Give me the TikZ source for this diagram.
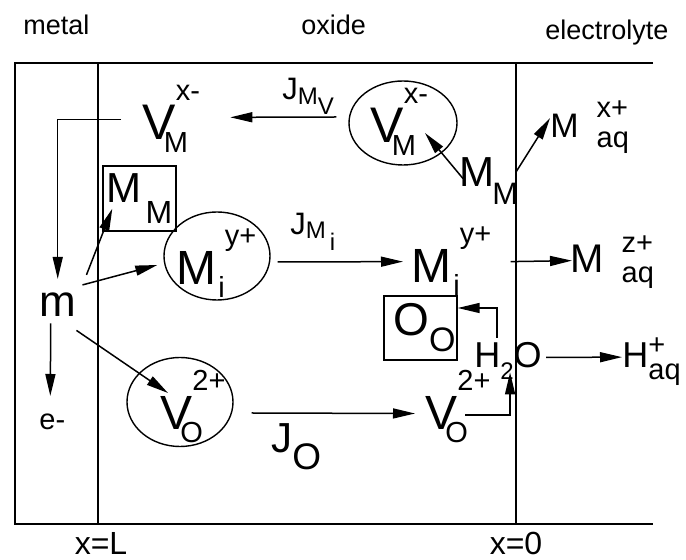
\documentclass[tikz,border=0pt]{standalone}
\usepackage{fontspec}
\setmainfont{Liberation Sans}
\usetikzlibrary{arrows.meta,shapes.geometric}

\newcommand\fs[1]{\fontsize{#1}{#1}\selectfont}
\newcommand\scr{\fs{14.5}}
% species: base, sub below, sup above
\newcommand\spc[3]{#1\rlap{\kern-6pt\raisebox{-6.5pt}{\scr #2}}\raisebox{19.5pt}{\scr #3}}
% species: sub, then sup
\newcommand\spi[3]{#1\kern1pt\raisebox{-6.5pt}{\scr #2}\raisebox{19.5pt}{\scr #3}}
% aqueous ion
\newcommand\aqs[2]{#1\hspace{9pt}\rlap{\raisebox{-5pt}{\scr aq}}\raisebox{10pt}{\scr #2}}

\begin{document}
\begin{tikzpicture}[x=0.5pt,y=-0.5pt,
    every node/.style={inner sep=0pt},
    txt/.style={anchor=base west,font=\fs{13.5}},
    ion/.style={anchor=base west,font=\fs{#1}},
    ion/.default=25,
    arr/.style={-{Triangle[length=11pt,width=5pt]},line width=0.75pt},
    wall/.style={line width=1pt},
    oval/.style={draw,ellipse,line width=0.7pt},
    site/.style={draw,rectangle,line width=0.7pt}]
  \useasboundingbox (0,0) rectangle (686,560);

  % layers
  \coordinate (tl) at (15,63); \coordinate (tr) at (653,63);
  \coordinate (bl) at (15,524); \coordinate (br) at (653,524);
  \coordinate (Lt) at (98,63); \coordinate (Lb) at (98,524);
  \coordinate (Zt) at (516,63); \coordinate (Zb) at (516,524);
  \draw[wall] (tr) -- (tl) -- (bl) -- (br);
  \draw[wall] (Lt) -- (Lb);
  \draw[wall] (Zt) -- (Zb);

  \node[txt] (metal) at (23,35) {metal};
  \node[txt] (oxide) at (301,35) {oxide};
  \node[txt] (elec) at (545,40) {electrolyte};
  \node[ion=16,anchor=base] (xL) at (101,555) {x=L};
  \node[ion=16,anchor=base] (x0) at (516,555) {x=0};

  % species
  \node[ion] (VMl) at (142,140) {\spc{V}{M}{x-}};
  \node[oval,minimum width=54pt,minimum height=42pt] (VMe) at (403,123) {};
  \node[ion] (VMc) at (370,143) {\spc{V}{M}{x-}};
  \node[ion=21] (MMr) at (459,187) {M\kern-1pt\raisebox{-9pt}{\fs{15.5}M}};
  \node[ion=17] (Mx) at (550,138) {\aqs{M}{x+}};
  \node[site,minimum width=36.5pt,minimum height=32.5pt,font=\fs{21}] (MMb) at (139.5,198.5) {M\kern2pt\raisebox{-10.5pt}{\fs{16}M}};
  \node[oval,minimum width=53pt,minimum height=44pt] (Mie) at (217,256) {};
  \node[ion=24] (Mic) at (176,285) {\spi{M}{i}{y+}};
  \node[ion=24] (Mir) at (411,283) {\spi{M}{i}{y+}};
  \node[ion=20] (Mz) at (570,273) {\aqs{M}{z+}};
  \node[ion=22] (m) at (39,317) {m};
  \node[ion=14.5] (e) at (39,430) {e-};
  \node[site,minimum width=36.5pt,minimum height=32pt,font=\fs{23}] (Oo) at (420.5,328) {\kern4pt O\raisebox{-8pt}{\fs{17}O}};
  \node[ion=18] (H2O) at (474,368) {H\raisebox{-6pt}{\fs{12}2}O};
  \node[ion=18] (Haq) at (622,368) {H\rlap{\raisebox{-6pt}{\scr aq}}\raisebox{6.5pt}{\scr +}};
  \node[oval,minimum width=53pt,minimum height=44.5pt] (Voe) at (180,402) {};
  \node[ion=24] (Voc) at (160,430) {\spc{V}{O}{2+}};
  \node[ion=24] (Vor) at (425,430) {\spc{V}{O}{2+}};

  % fluxes
  \node[ion=15.5] (JMv) at (282,100) {J\raisebox{-2.5pt}{\fs{12}M\raisebox{-5pt}{V}}};
  \node[ion=15.5] (JMi) at (290,235) {J\raisebox{-2pt}{\fs{12}M\,\raisebox{-6pt}{i}}};
  \node[ion=21] (JO) at (271,453) {J\raisebox{-8.5pt}{\fs{18.5}O}};

  % reactions and transport
  \draw[arr] ([xshift=-6pt,yshift=3pt]VMe.west) -- ([xshift=15pt,yshift=1pt]VMl.east);
  \draw[arr] ([xshift=-10.5pt]VMl.west) -| ([yshift=7pt]m.north);
  \draw[arr] ([xshift=5pt,yshift=9pt]m.north east) -- ([xshift=5pt,yshift=11.5pt]MMb.south west);
  \draw[arr] ([xshift=3pt,yshift=4pt]m.north east) -- ([xshift=-3pt,yshift=-4.5pt]Mie.west);
  \draw[arr] ([xshift=-3.5pt,yshift=-3pt]m.south) -- ([xshift=-1pt,yshift=9pt]e.north);
  \draw[arr] ([yshift=-6.5pt]m.south east) -- ([xshift=-6pt,yshift=4.5pt]Voe.center);
  \draw[arr] ([xshift=2pt,yshift=1.5pt]MMr.west) -- ([xshift=11pt,yshift=-5pt]VMe.center);
  \coordinate (Mxsrc) at (516,172);
  \draw[arr] (Mxsrc) -- ([yshift=4.75pt]Mx.west);
  \draw[arr] ([xshift=3.5pt,yshift=-3pt]Mie.east) -- ([xshift=-4pt]Mir.west);
  \draw[arr] ([xshift=9.5pt]Mir.east) -- ([xshift=1pt,yshift=1pt]Mz.west);
  \draw[arr] ([xshift=11.5pt,yshift=2.3pt]H2O.north west) |- ([yshift=10pt]Oo.east);
  \draw[arr] ([xshift=2pt,yshift=2pt]H2O.east) -- ([yshift=2.5pt]Haq.west);
  \draw[arr] ([xshift=9pt,yshift=-5.5pt]Voe.east) -- ([xshift=-5pt,yshift=-3.25pt]Vor.west);
  \draw[arr] ([xshift=20pt,yshift=7.5pt]Vor.base west) -| ([xshift=1pt,yshift=4pt]H2O.south);
\end{tikzpicture}
\end{document}
